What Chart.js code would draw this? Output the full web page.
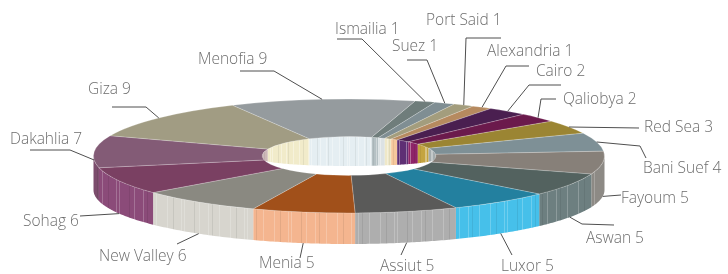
<!DOCTYPE html>
<html>
<head>
<meta charset="utf-8">
<script src="https://cdn.jsdelivr.net/npm/chart.js@4.4.1/dist/chart.umd.min.js"></script>
<style>
html,body{margin:0;padding:0;background:#ffffff;}
#wrap{width:728px;height:274px;position:relative;overflow:hidden;}
</style>
</head>
<body>
<div id="wrap"><canvas id="c" width="728" height="274"></canvas></div>
<script>
// ---------------- data ----------------
const categories = ['Ismailia','Suez','Port Said','Alexandria','Cairo','Qaliobya','Red Sea','Bani Suef','Fayoum','Aswan','Luxor','Assiut','Menia','New Valley','Sohag','Dakahlia','Giza','Menofia'];
const values = [1,1,1,1,2,2,3,4,5,5,5,5,5,6,6,7,9,9];

// ---------------- styles ----------------
const topColors = ['#6f7d7b','#7f8e93','#a39d7d','#b68a5f','#4a1f50','#6b1a4c','#9b8533','#7e9096','#878079','#53625f','#23809f','#5a5a59','#a1501a','#8a8981','#7a4062','#835b76','#a19c83','#959b9e'];
const sideColors = ['#8c9a98','#9eabaf','#c4bea0','#d9aa80','#5e2f74','#8e2468','#c4a440','#9aa8ad','#8d8a85','#6d7f80','#46c0ea','#aeaeae','#f4b58f','#d7d5ce','#8b4b79','#7c4d6d','#c9c4a8','#b7bec1'];
const innerColors = ['#b5c1c4','#dce2e4','#efe8c8','#f6c89c','#5e2f74','#8e2468','#c4a440','#a4acad','#a8a59f','#8a9a9b','#6fd0f0','#c8c8c8','#f6c4a3','#e6e4de','#a06090','#cdb8b8','#f1ebca','#e5eef2'];

// label text positions and leader elbows (layout only)
const labelLayout = [
  {x:335, y:30,  path:[[362,39],[337,39]]},
  {x:392, y:47,  path:[[427,60],[407,60]]},
  {x:426, y:21,  path:[[466,38],[501,38]]},
  {x:487, y:52,  path:[[506,66],[529,66]]},
  {x:536, y:72,  path:[[529,85],[561,85]]},
  {x:563, y:100, path:[[541,99],[556,99]]},
  {x:644, y:128, path:[[639,128]]},
  {x:643, y:169, path:[[640,146],[646,158]]},
  {x:621, y:199, path:[[621,195]]},
  {x:586, y:239, path:[[582,224],[614,225]]},
  {x:501, y:267, path:[[512,255]]},
  {x:380, y:267, path:[[401,255]]},
  {x:259, y:264, path:[[300,258]]},
  {x:99,  y:257, path:[[177,244]]},
  {x:23,  y:222, path:[[80,216]]},
  {x:10,  y:140, path:[[70,150],[30,150]]},
  {x:88,  y:90,  path:[[146,107],[112,107]]},
  {x:198, y:60,  path:[[274,71],[240,71]]}
];

// 3D geometry
const TILT = 57 / 255.5;        // vertical squash of the top face
const DEPTH = 34;               // wall height offset
const BOTTOM_TILT = 54 / 255.5; // squash of the bottom rim
const HOLE_EDGE = 3, HOLE_SAG = 7;
const STRIPES = [5, 9, 4, 7, 11, 6, 8, 3, 10];

function ranges(a, b, lo, hi) {
  const out = [];
  for (let k = -1; k <= 1; k++) {
    const s = Math.max(a, lo + k * 2 * Math.PI), e = Math.min(b, hi + k * 2 * Math.PI);
    if (e > s) out.push([s, e]);
  }
  return out;
}

const pie3d = {
  id: 'pie3d',
  beforeDatasetsDraw(chart) {
    const ctx = chart.ctx;
    const arcs = chart.getDatasetMeta(0).data;
    if (!arcs.length) return;
    const cx = arcs[0].x, cy = arcs[0].y, R = arcs[0].outerRadius, r = arcs[0].innerRadius;
    ctx.save();
    // inner wall (far side of the hole)
    arcs.forEach((arc, i) => {
      ranges(arc.startAngle, arc.endAngle, -Math.PI, 0).forEach(([a, b]) => {
        const n = 24;
        ctx.beginPath();
        for (let j = 0; j <= n; j++) {
          const t = a + (b - a) * j / n;
          ctx.lineTo(cx + r * Math.cos(t), cy + TILT * r * Math.sin(t));
        }
        for (let j = n; j >= 0; j--) {
          const t = a + (b - a) * j / n;
          ctx.lineTo(cx + r * Math.cos(t), cy + HOLE_EDGE - HOLE_SAG * Math.sin(t));
        }
        ctx.closePath();
        ctx.fillStyle = innerColors[i];
        ctx.fill();
        // stripes
        const x0 = cx + r * Math.cos(a), x1 = cx + r * Math.cos(b);
        const xl = Math.min(x0, x1), xr = Math.max(x0, x1);
        let x = xl + 2, k = i;
        ctx.lineWidth = 1;
        while (x < xr - 1) {
          const t = -Math.acos(Math.max(-1, Math.min(1, (x - cx) / r)));
          ctx.strokeStyle = (k % 3 === 0) ? 'rgba(0,0,0,0.06)' : 'rgba(255,255,255,0.35)';
          ctx.beginPath();
          ctx.moveTo(Math.round(x) + 0.5, cy + TILT * r * Math.sin(t));
          ctx.lineTo(Math.round(x) + 0.5, cy + HOLE_EDGE - HOLE_SAG * Math.sin(t));
          ctx.stroke();
          x += STRIPES[k % STRIPES.length] * 0.6; k++;
        }
      });
    });
    // outer wall (front side)
    arcs.forEach((arc, i) => {
      ranges(arc.startAngle, arc.endAngle, 0, Math.PI).forEach(([a, b]) => {
        const n = 40;
        ctx.beginPath();
        for (let j = 0; j <= n; j++) {
          const t = a + (b - a) * j / n;
          ctx.lineTo(cx + R * Math.cos(t), cy + TILT * R * Math.sin(t));
        }
        for (let j = n; j >= 0; j--) {
          const t = a + (b - a) * j / n;
          ctx.lineTo(cx + R * Math.cos(t), cy + DEPTH + BOTTOM_TILT * R * Math.sin(t));
        }
        ctx.closePath();
        ctx.fillStyle = sideColors[i];
        ctx.fill();
        const xr = cx + R * Math.cos(a), xl = cx + R * Math.cos(b);
        let x = xl + 3, k = i;
        ctx.lineWidth = 1;
        while (x < xr - 1) {
          const t = Math.acos(Math.max(-1, Math.min(1, (x - cx) / R)));
          ctx.strokeStyle = (k % 3 === 0) ? 'rgba(0,0,0,0.07)' : 'rgba(255,255,255,0.22)';
          ctx.beginPath();
          ctx.moveTo(Math.round(x) + 0.5, cy + TILT * R * Math.sin(t));
          ctx.lineTo(Math.round(x) + 0.5, cy + DEPTH + BOTTOM_TILT * R * Math.sin(t));
          ctx.stroke();
          x += STRIPES[k % STRIPES.length]; k++;
        }
      });
    });
    ctx.restore();
    // squash the top face drawn by Chart.js
    ctx.save();
    ctx.translate(0, cy);
    ctx.scale(1, TILT);
    ctx.translate(0, -cy);
  },
  afterDatasetsDraw(chart) {
    chart.ctx.restore();
  },
  afterDraw(chart) {
    const ctx = chart.ctx;
    const arcs = chart.getDatasetMeta(0).data;
    ctx.save();
    ctx.strokeStyle = '#4f4f4f';
    ctx.lineWidth = 1;
    ctx.fillStyle = '#6d6d6d';
    ctx.font = '300 15.5px "Open Sans", "Noto Sans", sans-serif';
    ctx.textAlign = 'left';
    ctx.textBaseline = 'middle';
    arcs.forEach((arc, i) => {
      const m = (arc.startAngle + arc.endAngle) / 2;
      const c = Math.cos(m), s = Math.sin(m);
      const ax = arc.x + arc.outerRadius * c;
      const topY = arc.y + TILT * arc.outerRadius * s;
      let ay;
      if (s > 0.1) ay = arc.y + DEPTH + BOTTOM_TILT * arc.outerRadius * s;
      else if (s > -0.1) ay = topY + DEPTH / 4;
      else ay = topY;
      const lay = labelLayout[i];
      ctx.beginPath();
      ctx.moveTo(ax, ay);
      lay.path.forEach(p => ctx.lineTo(p[0], p[1]));
      ctx.stroke();
      ctx.fillText(categories[i] + ' ' + values[i], lay.x, lay.y);
    });
    ctx.restore();
  }
};

new Chart(document.getElementById('c'), {
  type: 'doughnut',
  data: {
    labels: categories,
    datasets: [{
      data: values,
      backgroundColor: topColors,
      borderColor: 'rgba(255,255,255,0.35)',
      borderWidth: 1,
      hoverOffset: 0,
      clip: false
    }]
  },
  options: {
    responsive: false,
    animation: false,
    devicePixelRatio: 1,
    rotation: 15,
    cutout: '34%',
    radius: 255.5,
    layout: {padding: {left: 0, right: 30, top: 38, bottom: 0}},
    plugins: {legend: {display: false}, tooltip: {enabled: false}},
    events: []
  },
  plugins: [pie3d]
});
</script>
</body>
</html>
